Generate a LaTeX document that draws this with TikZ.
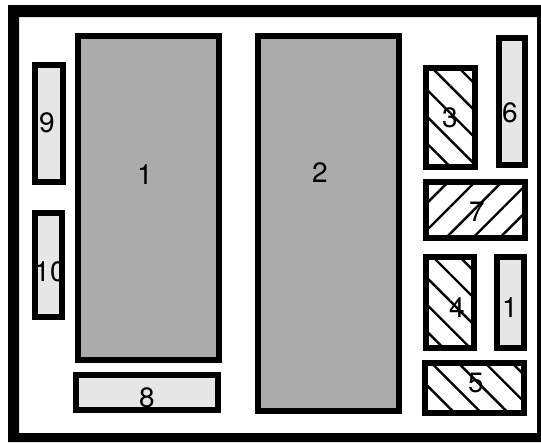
\documentclass[tikz,border=0pt]{standalone}
\usepackage{fontspec}
\setmainfont{TeX Gyre Heros}
\usetikzlibrary{patterns.meta}
\definecolor{plDark}{HTML}{ABABAB}
\definecolor{plLight}{HTML}{E6E6E6}
\tikzset{
    plFrame/.style={draw=black, line width=10pt},
    plBase/.style={draw=black, line width=6pt},
    % fills
    bigBlock/.style={plBase, fill=plDark},
    smallBlock/.style={plBase, fill=plLight},
    hatchDown/.style={plBase, fill=white, postaction={pattern={Lines[angle=-45, distance=19pt, line width=2.4pt]}}},
    hatchUp/.style={plBase, fill=white, postaction={pattern={Lines[angle=45, distance=19pt, line width=2.4pt]}}},
    plLabel/.style={font=\fontsize{28}{28}\selectfont, inner sep=0pt}
}

\begin{document}
\begin{tikzpicture}[x=1pt, y=-1pt]
\useasboundingbox (0,0) rectangle (541,442);
\fill[white] (0,0) rectangle (541,442);
\fill[black, even odd rule] (8,5) rectangle (541,442) (19,17) rectangle (537,433);

% large zones
\draw[bigBlock] (78,36) rectangle (219,360);
\draw[bigBlock] (258,36) rectangle (399,411);
\node[plLabel] (zoneA) at (145,175) {1};
\node[plLabel] (zoneB) at (320,173) {2};

% left column
\draw[smallBlock] (35,65) rectangle (63,182);
\draw[smallBlock] (35,213) rectangle (62,317);
\draw[smallBlock] (76,375) rectangle (218,410);
\node[plLabel] (zoneNine) at (47,123) {9};
\node[plLabel] (zoneTen) at (50,272) {10};
\node[plLabel] (zoneEight) at (147,398) {8};

% right column
\draw[hatchDown] (426,68) rectangle (475,167);
\draw[smallBlock] (499,38) rectangle (525,165);
\draw[hatchUp] (426,182) rectangle (525,238);
\draw[hatchDown] (426,257) rectangle (474,348);
\draw[smallBlock] (497,257) rectangle (524,348);
\draw[hatchDown] (425,363) rectangle (524,413);
\node[plLabel] (zoneThree) at (450,118) {3};
\node[plLabel] (zoneSix) at (510,113) {6};
\node[plLabel] (zoneSeven) at (477,212) {7};
\node[plLabel] (zoneFour) at (457,308) {4};
\node[plLabel] (zoneOne) at (510,308) {1};
\node[plLabel] (zoneFive) at (476,383) {5};
\end{tikzpicture}
\end{document}
